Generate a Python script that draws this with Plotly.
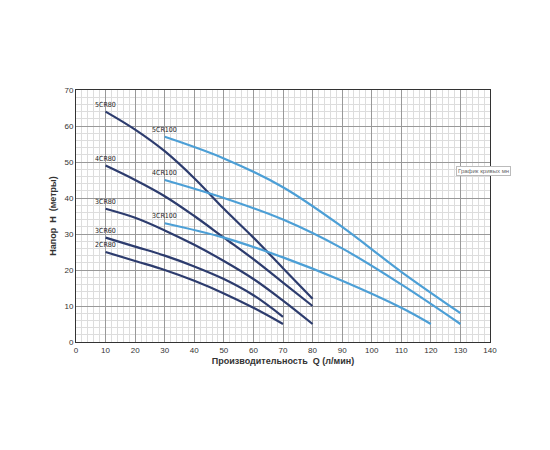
import plotly.graph_objects as go

x80 = [10, 20, 30, 40, 50, 60, 70, 80]
cr5_80 = [64, 59, 53, 45.5, 37, 29, 20.5, 12]
cr4_80 = [49, 45, 40.5, 35, 29, 23, 16.5, 10]
cr3_80 = [37, 34.5, 31, 27, 22.5, 17.5, 11.5, 5]
x60 = [10, 20, 30, 40, 50, 60, 70]
cr3_60 = [29, 26.5, 24, 21, 17.5, 13, 7]
cr2_80 = [25, 22.5, 20, 17, 13.5, 9.5, 5]
x100 = [30, 50, 70, 90, 110, 130]
cr5_100 = [57, 51, 43, 32, 19.5, 8]
cr4_100 = [45, 40, 34, 26, 16, 5]
x3_100 = [30, 50, 70, 90, 110, 120]
cr3_100 = [33, 29, 23.5, 17, 9.5, 5]

dark = "#2d3c6e"
light = "#4c9fd6"
series = [
    ("5CR80", x80, cr5_80, dark), ("4CR80", x80, cr4_80, dark), ("3CR80", x80, cr3_80, dark),
    ("3CR60", x60, cr3_60, dark), ("2CR80", x60, cr2_80, dark),
    ("5CR100", x100, cr5_100, light), ("4CR100", x100, cr4_100, light), ("3CR100", x3_100, cr3_100, light),
]
fig = go.Figure()
for name, xs, ys, c in series:
    fig.add_trace(go.Scatter(x=xs, y=ys, mode="lines", line=dict(color=c, width=2.2, shape="spline"), name=name))
    fig.add_annotation(x=xs[0], y=ys[0], text=name, showarrow=False, xanchor="center", yanchor="bottom",
                       yshift=1, font=dict(size=7, color="#222", family="DejaVu Sans Condensed"))

fig.add_annotation(xref="paper", yref="paper", x=0.918, y=0.70, text="График кривых мн", showarrow=False,
                   xanchor="left", font=dict(size=6, color="#666"), bgcolor="white", bordercolor="#bbb", borderwidth=1)

ax = dict(showgrid=True, gridcolor="#999", gridwidth=1, showline=True, linecolor="#333", mirror=True,
          zeroline=False, ticks="", tickfont=dict(size=8, color="#333"), automargin=False,
          minor=dict(showgrid=True, gridcolor="#ddd", gridwidth=0.6))
fig.update_xaxes(range=[0, 140], dtick=10, minor_dtick=2, **ax,
                 title=dict(text="<b>Производительность  Q (л/мин)</b>", font=dict(size=9, color="#333"), standoff=4))
fig.update_yaxes(range=[0, 70], dtick=10, minor_dtick=2, **ax,
                 title=dict(text="<b>Напор  Н  (метры)</b>", font=dict(size=9, color="#333"), standoff=6))
fig.update_layout(width=550, height=450, showlegend=False, plot_bgcolor="white", paper_bgcolor="white",
                  margin=dict(l=68, r=68, t=82, b=116), font=dict(family="Liberation Sans"))
fig.write_html("out.html")
